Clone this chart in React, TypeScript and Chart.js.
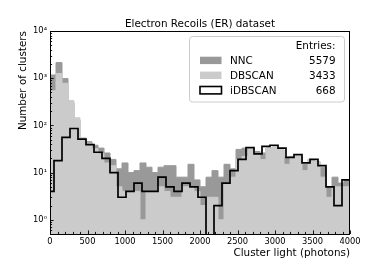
import React, { useEffect, useRef } from 'react';
import { Chart, registerables } from 'chart.js';

Chart.register(...registerables);

// ---------- data ----------
const X_MIN = 0;
const X_MAX = 4000;
const Y_MIN = 0.5;
const Y_MAX = 10000;
const X_MAJOR_STEP = 500;
const X_MINOR_STEP = 100;
const Y_DECADES = [1, 10, 100, 1000, 10000];

// NNC and DBSCAN histograms: 50 bins of width 80 starting at 0
const GRAY_BIN_START = 0;
const GRAY_BIN_WIDTH = 80;
const nncCounts = [
  1170, 2140, 980, 300, 130, 50, 45, 38, 33, 26,
  19, 12, 16, 10, 11, 16, 13, 10, 13, 14,
  14, 8, 8, 15, 7, 5, 8, 11, 8, 15,
  12, 31, 33, 33, 28, 26, 33, 35, 30, 21,
  22, 22, 15, 19, 17, 13, 5, 8, 6, 7,
];
const dbscanCounts = [
  540, 1260, 780, 335, 145, 55, 42, 32, 25, 16,
  14, 5, 4, 4, 4, 1, 4, 4, 5, 4,
  3, 3, 5, 5, 4, 2, 3, 3, 1, 6,
  8, 19, 22, 31, 24, 19, 33, 35, 30, 15,
  22, 22, 11, 19, 17, 8, 3, 5, 5, 5,
];

// iDBSCAN histogram: 38 bins of width 4000/37.5 starting at -4000/75
const IDB_BIN_START = -4000 / 75;
const IDB_BIN_WIDTH = 4000 / 37.5;
const idbscanCounts = [
  4, 18, 56, 86, 51, 39, 27, 20, 10, 3,
  4, 6, 4, 4, 8, 5, 4, 6, 5, 3,
  0, 2, 6, 11, 19, 34, 25, 36, 38, 33,
  21, 24, 16, 19, 14, 5, 2, 7,
];

const seriesNames = ['NNC', 'DBSCAN', 'iDBSCAN'];
const seriesEntries = [5579, 3433, 668];

const TITLE = 'Electron Recoils (ER) dataset';
const X_LABEL = 'Cluster light (photons)';
const Y_LABEL = 'Number of clusters';

// ---------- styles ----------
const NNC_COLOR = '#999999';
const DBSCAN_COLOR = '#cbcbcb';
const IDB_COLOR = '#000000';
const FONT = 'DejaVu Sans';
const FLOOR = 0.05; // value used for empty bins on the log axis (below the axis minimum)

const SUP: Record<string, string> = { '0': '⁰', '1': '¹', '2': '²', '3': '³', '4': '⁴', '5': '⁵', '6': '⁶', '7': '⁷', '8': '⁸', '9': '⁹', '-': '⁻' };

function stepPoints(start: number, width: number, counts: number[]) {
  const pts: { x: number; y: number }[] = [{ x: start, y: FLOOR }];
  counts.forEach((c, i) => pts.push({ x: start + i * width, y: c > 0 ? c : FLOOR }));
  pts.push({ x: start + counts.length * width, y: FLOOR });
  return pts;
}

const decorPlugin = {
  id: 'decor',
  afterDraw(chart: any) {
    const { ctx, chartArea: a, scales } = chart;
    const xs = scales.x;
    const ys = scales.y;
    ctx.save();

    // inward tick marks
    ctx.strokeStyle = '#000';
    ctx.lineWidth = 0.9;
    ctx.beginPath();
    for (let v = X_MIN; v <= X_MAX; v += X_MINOR_STEP) {
      const px = Math.round(xs.getPixelForValue(v)) + 0.5;
      const len = v % X_MAJOR_STEP === 0 ? 3.6 : 2.1;
      ctx.moveTo(px, a.bottom);
      ctx.lineTo(px, a.bottom - len);
    }
    for (let e = -1; e <= 4; e++) {
      for (let m = 1; m <= 9; m++) {
        const v = m * Math.pow(10, e);
        if (v < Y_MIN - 1e-9 || v > Y_MAX + 1e-9) continue;
        const py = Math.round(ys.getPixelForValue(v)) + 0.5;
        const len = m === 1 ? 3.6 : 2.1;
        ctx.moveTo(a.left, py);
        ctx.lineTo(a.left + len, py);
      }
    }
    ctx.stroke();

    // frame
    ctx.lineWidth = 1;
    ctx.strokeRect(Math.round(a.left) + 0.5, Math.round(a.top) + 0.5, Math.round(a.right - a.left) - 1, Math.round(a.bottom - a.top));

    // title and axis labels
    ctx.fillStyle = '#000';
    ctx.font = `10.4px "${FONT}"`;
    ctx.textBaseline = 'alphabetic';
    ctx.textAlign = 'center';
    ctx.fillText(TITLE, (a.left + a.right) / 2, 26.5);
    ctx.textAlign = 'right';
    ctx.fillText(X_LABEL, a.right, 256);
    ctx.save();
    ctx.translate(26.3, a.top);
    ctx.rotate(-Math.PI / 2);
    ctx.textAlign = 'right';
    ctx.fillText(Y_LABEL, 0, 0);
    ctx.restore();

    // legend
    const bx = 189.5, by = 36.5, bw = 155, bh = 65.5, r = 3;
    ctx.beginPath();
    ctx.moveTo(bx + r, by);
    ctx.lineTo(bx + bw - r, by);
    ctx.quadraticCurveTo(bx + bw, by, bx + bw, by + r);
    ctx.lineTo(bx + bw, by + bh - r);
    ctx.quadraticCurveTo(bx + bw, by + bh, bx + bw - r, by + bh);
    ctx.lineTo(bx + r, by + bh);
    ctx.quadraticCurveTo(bx, by + bh, bx, by + bh - r);
    ctx.lineTo(bx, by + r);
    ctx.quadraticCurveTo(bx, by, bx + r, by);
    ctx.closePath();
    ctx.fillStyle = 'rgba(255,255,255,0.8)';
    ctx.fill();
    ctx.strokeStyle = '#cccccc';
    ctx.lineWidth = 1;
    ctx.stroke();

    ctx.fillStyle = '#000';
    ctx.font = `10.4px "${FONT}"`;
    const rowStep = 14.9;
    const base0 = 49.3;
    ctx.textAlign = 'right';
    ctx.fillText('Entries:', 335.5, base0);
    const swatchFill = [NNC_COLOR, DBSCAN_COLOR, '#ffffff'];
    seriesNames.forEach((name, i) => {
      const base = base0 + rowStep * (i + 1);
      const cy = base - 3.8;
      const sx = 200, sw = 21.5, sh = 7.4;
      ctx.fillStyle = swatchFill[i];
      ctx.fillRect(sx, cy - sh / 2, sw, sh);
      if (i === 2) {
        ctx.strokeStyle = IDB_COLOR;
        ctx.lineWidth = 1.6;
        ctx.strokeRect(sx, cy - sh / 2, sw, sh);
      }
      ctx.fillStyle = '#000';
      ctx.textAlign = 'left';
      ctx.fillText(name, 230, base);
      ctx.textAlign = 'right';
      ctx.fillText(String(seriesEntries[i]), 335.5, base);
    });

    ctx.restore();
  },
};

export default function App() {
  const ref = useRef<HTMLCanvasElement>(null);

  useEffect(() => {
    document.body.style.margin = '0';
    const canvas = ref.current;
    if (!canvas) return;
    const tickFont = { family: FONT, size: 8.33 };

    const chart = new Chart(canvas, {
      type: 'line',
      data: {
        datasets: [
          {
            label: seriesNames[0],
            data: stepPoints(GRAY_BIN_START, GRAY_BIN_WIDTH, nncCounts),
            stepped: 'before',
            fill: 'start',
            backgroundColor: NNC_COLOR,
            borderColor: NNC_COLOR,
            borderWidth: 1,
            pointRadius: 0,
            order: 3,
          },
          {
            label: seriesNames[1],
            data: stepPoints(GRAY_BIN_START, GRAY_BIN_WIDTH, dbscanCounts),
            stepped: 'before',
            fill: 'start',
            backgroundColor: DBSCAN_COLOR,
            borderColor: DBSCAN_COLOR,
            borderWidth: 1,
            pointRadius: 0,
            order: 2,
          },
          {
            label: seriesNames[2],
            data: stepPoints(IDB_BIN_START, IDB_BIN_WIDTH, idbscanCounts),
            stepped: 'before',
            fill: false,
            borderColor: IDB_COLOR,
            borderWidth: 1.7,
            pointRadius: 0,
            order: 1,
          },
        ],
      } as any,
      options: {
        animation: false,
        responsive: false,
        devicePixelRatio: 1,
        events: [],
        layout: { padding: { left: 0, right: 31, top: 31, bottom: 0 } },
        plugins: {
          legend: { display: false },
          title: { display: false },
          tooltip: { enabled: false },
        },
        scales: {
          x: {
            type: 'linear',
            min: X_MIN,
            max: X_MAX,
            grid: { display: false, drawTicks: false },
            border: { display: false },
            ticks: {
              stepSize: X_MAJOR_STEP,
              autoSkip: false,
              maxRotation: 0,
              padding: 3,
              color: '#000',
              font: tickFont,
              callback: (v: any) => String(Math.round(Number(v))),
            },
            afterFit: (s: any) => {
              s.height = 44;
            },
          },
          y: {
            type: 'logarithmic',
            min: Y_MIN,
            max: Y_MAX,
            grid: { display: false, drawTicks: false },
            border: { display: false },
            ticks: {
              padding: 3,
              color: '#000',
              font: tickFont,
              autoSkip: false,
              callback: (v: any) => {
                const e = Math.round(Math.log10(Number(v)));
                return '10' + String(e).split('').map((ch) => SUP[ch] || ch).join('');
              },
            },
            afterBuildTicks: (s: any) => {
              s.ticks = Y_DECADES.map((v) => ({ value: v, major: true }));
            },
            afterFit: (s: any) => {
              s.width = 50;
            },
          },
        },
      } as any,
      plugins: [decorPlugin],
    });

    return () => chart.destroy();
  }, []);

  return (
    <div style={{ position: 'absolute', left: 0, top: 0, width: 381, height: 278 }}>
      <canvas ref={ref} width={381} height={278} style={{ display: 'block', width: 381, height: 278 }} />
    </div>
  );
}
